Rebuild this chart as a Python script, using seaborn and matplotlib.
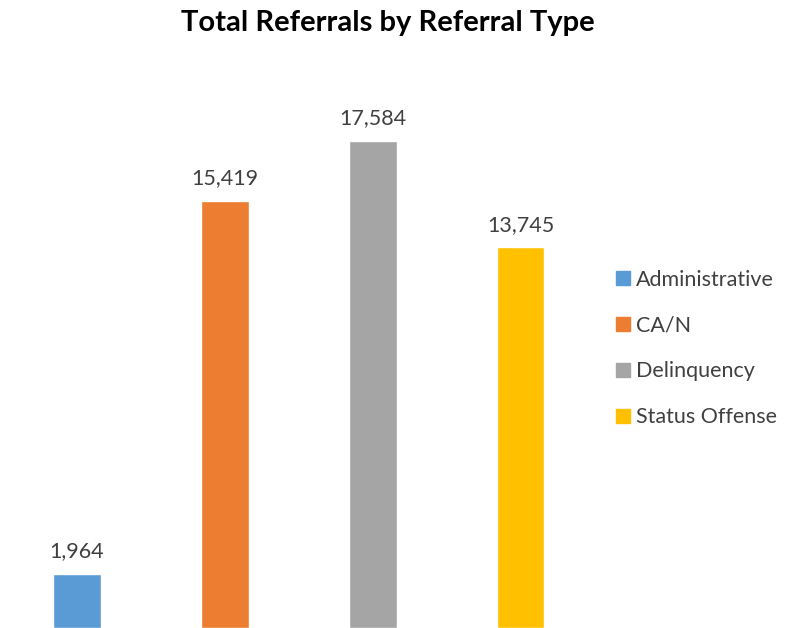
import matplotlib
matplotlib.use('Agg')
import matplotlib.pyplot as plt
import seaborn as sns
import pandas as pd

# data
categories = ["Administrative", "CA/N", "Delinquency", "Status Offense"]
referrals = [1964, 15419, 17584, 13745]
colors = ["#5B9BD5", "#ED7D31", "#A5A5A5", "#FFC000"]

df = pd.DataFrame({"type": categories, "total": referrals})

sns.set_style("white")
plt.rcParams['font.family'] = ['Lato', 'DejaVu Sans']

fig = plt.figure(figsize=(7.88, 6.28), dpi=100)
ax = fig.add_axes([0.0038, 0.0, 0.751, 0.882])

sns.barplot(data=df, x="type", y="total", hue="type", palette=colors,
            width=0.32, dodge=False, legend=False, saturation=1, ax=ax)

ax.set_ylim(0, 20000)
ax.set_xlim(-0.5, 3.5)
for i, v in enumerate(referrals):
    ax.text(i, v + 450, f"{v:,}", ha="center", va="bottom",
            fontsize=15.5, color="#404040")

ax.set_xticks([])
ax.set_yticks([])
ax.set_xlabel("")
ax.set_ylabel("")
sns.despine(ax=ax, left=True, bottom=True)

handles = [plt.Rectangle((0, 0), 1, 1, color=c) for c in colors]
fig.legend(handles, categories, loc="center left", bbox_to_anchor=(0.782, 0.445),
           frameon=False, fontsize=15.5, labelcolor="#404040",
           handlelength=0.65, handleheight=0.65, handletextpad=0.25,
           labelspacing=1.2, borderaxespad=0, borderpad=0)

fig.text(0.492, 0.963, "Total Referrals by Referral Type", ha="center", va="center",
         fontsize=21, fontweight="bold", color="black")

fig.savefig("out.png", dpi=100)
plt.close(fig)
